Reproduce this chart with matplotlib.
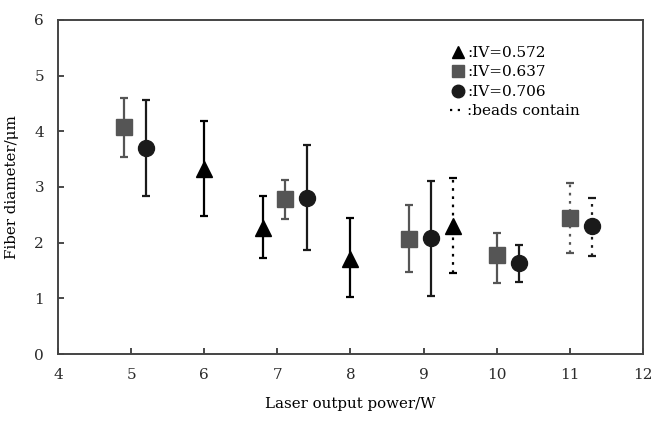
import matplotlib.pyplot as plt
from matplotlib.lines import Line2D

plt.rcParams['font.family'] = 'DejaVu Serif'

# IV=0.572 (triangles)
tri_x = [6.0, 6.8, 8.0, 9.4]
tri_y = [3.32, 2.26, 1.70, 2.30]
tri_lo = [2.48, 1.73, 1.02, 1.45]
tri_hi = [4.19, 2.83, 2.44, 3.16]
tri_beads = [False, False, False, True]

# IV=0.637 (squares)
sq_x = [4.9, 7.1, 8.8, 10.0, 11.0]
sq_y = [4.07, 2.78, 2.06, 1.78, 2.44]
sq_lo = [3.53, 2.43, 1.48, 1.28, 1.82]
sq_hi = [4.60, 3.13, 2.67, 2.18, 3.07]
sq_beads = [False, False, False, False, True]

# IV=0.706 (circles)
ci_x = [5.2, 7.4, 9.1, 10.3, 11.3]
ci_y = [3.70, 2.80, 2.08, 1.63, 2.30]
ci_lo = [2.83, 1.86, 1.05, 1.30, 1.76]
ci_hi = [4.56, 3.75, 3.11, 1.96, 2.80]
ci_beads = [False, False, False, False, True]

labels = [':IV=0.572', ':IV=0.637', ':IV=0.706']

fig = plt.figure(figsize=(6.52, 4.23), dpi=100)
ax = fig.add_axes([0.089, 0.163, 0.897, 0.79])


def draw(xs, ys, los, his, beads, marker, color, ms):
    for x, y, lo, hi, b in zip(xs, ys, los, his, beads):
        eb = ax.errorbar([x], [y], yerr=[[y - lo], [hi - y]], fmt=marker,
                         color=color, ms=ms, elinewidth=1.6, capsize=3,
                         capthick=1.6, zorder=3)
        if b:
            eb[2][0].set_linestyle((0, (1.2, 2.5)))


draw(tri_x, tri_y, tri_lo, tri_hi, tri_beads, '^', 'black', 12)
draw(sq_x, sq_y, sq_lo, sq_hi, sq_beads, 's', '#555555', 11.5)
draw(ci_x, ci_y, ci_lo, ci_hi, ci_beads, 'o', '#1a1a1a', 11.5)

ax.set_xlim(4, 12)
ax.set_ylim(0, 6)
ax.set_xticks(range(4, 13))
ax.set_yticks(range(0, 7))
ax.tick_params(direction='in', length=4, width=1.2, labelsize=11, colors='#2a2a2a')
ax.tick_params(axis='x', pad=10)
ax.tick_params(axis='y', pad=10)
for s in ax.spines.values():
    s.set_linewidth(1.4)
    s.set_color('#444444')

ax.set_xlabel('Laser output power/W', fontsize=10.8, labelpad=11)
ax.set_ylabel('Fiber diameter/\u03bcm', fontsize=10.8, labelpad=11)

handles = [
    Line2D([], [], marker='^', color='black', ls='none', ms=9),
    Line2D([], [], marker='s', color='#555555', ls='none', ms=8),
    Line2D([], [], marker='o', color='#1a1a1a', ls='none', ms=9),
    Line2D([], [], color='black', ls=(0, (1, 2.5)), lw=1.6),
]
ax.legend(handles, labels + [':beads contain'], loc='upper left',
          bbox_to_anchor=(0.647, 0.963), frameon=False, fontsize=11,
          handlelength=1.0, handletextpad=0.1, labelspacing=0.36)

fig.savefig('out.png', dpi=100)
